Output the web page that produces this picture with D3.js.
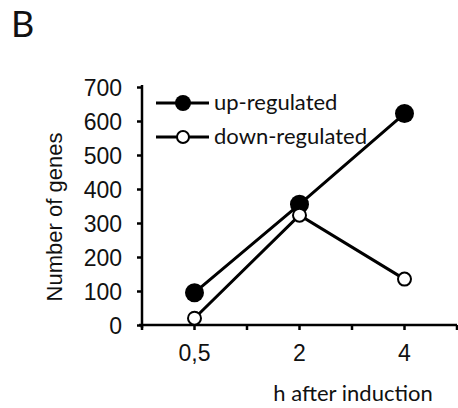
<!DOCTYPE html>
<html lang="en">
<head>
<meta charset="utf-8">
<title>Number of genes</title>
<script src="https://d3js.org/d3.v7.min.js"></script>
<style>
  body { margin: 0; background: #fff; }
  .tick text { font-family: "Liberation Sans", Arial, sans-serif; font-size: 23px; fill: #111; }
  .calib { font-family: Lato, "Open Sans", sans-serif; fill: #111; }
</style>
</head>
<body>
<script>
// data
var categories = ["0,5", "2", "4"];
var upRegulated = [95, 355, 622];
var downRegulated = [20, 323, 135];
var yTicks = [0, 100, 200, 300, 400, 500, 600, 700];

var width = 458, height = 408;
var plotLeft = 142, plotRight = 457, plotTop = 87, plotBottom = 325;

var svg = d3.select("body").append("svg")
  .attr("width", width)
  .attr("height", height);

var x = d3.scaleBand()
  .domain(categories)
  .range([plotLeft, plotRight]);

var y = d3.scaleLinear()
  .domain([0, 700])
  .range([plotBottom, plotTop]);

// y axis
var yAxis = svg.append("g")
  .attr("transform", "translate(" + plotLeft + ",0)")
  .call(d3.axisLeft(y).tickValues(yTicks).tickSize(5).tickPadding(15).tickFormat(d3.format("d")));
yAxis.select(".domain").attr("stroke-width", 2.5).attr("d", "M0," + (plotTop - 2) + "V" + (plotBottom + 3));
yAxis.selectAll(".tick line").attr("stroke-width", 2.5);
yAxis.selectAll(".tick text").attr("dy", "0.36em");

// x axis: ticks at band centers and edges
var xAxis = svg.append("g")
  .attr("transform", "translate(0," + plotBottom + ")")
  .call(d3.axisBottom(x).tickSize(5).tickPadding(15));
xAxis.select(".domain").attr("stroke-width", 2.5).attr("d", "M" + (plotLeft - 3) + ",0H" + plotRight);
xAxis.selectAll(".tick line").attr("stroke-width", 2.5);
var edges = categories.map(function(c) { return x(c); }).concat([x.range()[1]]);
xAxis.selectAll(".edge")
  .data(edges)
  .enter().append("line")
  .attr("class", "edge")
  .attr("x1", function(d) { return d; })
  .attr("x2", function(d) { return d; })
  .attr("y1", 0).attr("y2", 5)
  .attr("stroke", "#000").attr("stroke-width", 2.5);

var line = d3.line()
  .x(function(d, i) { return x(categories[i]) + x.bandwidth() / 2; })
  .y(function(d) { return y(d); });

svg.append("path").datum(downRegulated)
  .attr("d", line).attr("fill", "none").attr("stroke", "#000").attr("stroke-width", 3);
svg.append("path").datum(upRegulated)
  .attr("d", line).attr("fill", "none").attr("stroke", "#000").attr("stroke-width", 3);

svg.selectAll(".up").data(upRegulated).enter().append("circle")
  .attr("cx", function(d, i) { return x(categories[i]) + x.bandwidth() / 2; })
  .attr("cy", function(d) { return y(d); })
  .attr("r", 9.5).attr("fill", "#000");

svg.selectAll(".down").data(downRegulated).enter().append("circle")
  .attr("cx", function(d, i) { return x(categories[i]) + x.bandwidth() / 2; })
  .attr("cy", function(d) { return y(d); })
  .attr("r", 6.5).attr("fill", "#fff").attr("stroke", "#000").attr("stroke-width", 2);

// legend
var legend = [
  { name: "up-regulated", fill: "#000", r: 8, sw: 0, yy: 103 },
  { name: "down-regulated", fill: "#fff", r: 6, sw: 2, yy: 137 }
];
legend.forEach(function(l) {
  svg.append("line").attr("x1", 156).attr("x2", 209).attr("y1", l.yy).attr("y2", l.yy)
    .attr("stroke", "#000").attr("stroke-width", 3);
  svg.append("circle").attr("cx", 183).attr("cy", l.yy).attr("r", l.r)
    .attr("fill", l.fill).attr("stroke", "#000").attr("stroke-width", l.sw);
  svg.append("text").attr("class", "calib").attr("x", 214).attr("y", l.yy + 7)
    .style("font-size", "22px").text(l.name);
});

// axis titles
svg.append("text")
  .attr("transform", "translate(62,217) rotate(-90)")
  .attr("text-anchor", "middle")
  .style("font-family", "'Liberation Sans', Arial, sans-serif")
  .style("font-size", "22px").attr("fill", "#111")
  .text("Number of genes");

svg.append("text").attr("class", "calib")
  .attr("x", 353).attr("y", 401)
  .attr("text-anchor", "middle")
  .style("font-size", "22px")
  .text("h after induction");

svg.append("text").attr("class", "calib")
  .attr("x", 11).attr("y", 37)
  .style("font-size", "36px")
  .text("B");
</script>
</body>
</html>
